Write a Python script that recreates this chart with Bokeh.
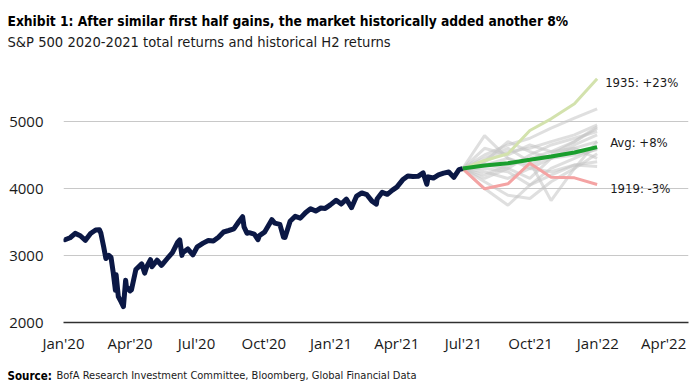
import pandas as pd
from bokeh.plotting import figure
from bokeh.layouts import column, row
from bokeh.models import Range1d, FixedTicker, DatetimeTickFormatter, Label, ColumnDataSource
from bokeh.core.properties import value
from bokeh.embed import file_html
from bokeh.resources import INLINE

# ---------------- data ----------------
spx_dates = [
    "2020-01-02", "2020-01-03", "2020-01-10", "2020-01-17", "2020-01-24", "2020-01-31",
    "2020-02-07", "2020-02-14", "2020-02-19", "2020-02-21", "2020-02-25", "2020-02-28",
    "2020-03-03", "2020-03-06", "2020-03-09", "2020-03-12", "2020-03-13", "2020-03-16",
    "2020-03-20", "2020-03-23", "2020-03-26", "2020-03-27", "2020-04-01", "2020-04-03",
    "2020-04-09", "2020-04-17", "2020-04-21", "2020-04-24", "2020-04-29", "2020-05-01",
    "2020-05-08", "2020-05-14", "2020-05-15", "2020-05-22", "2020-05-29", "2020-06-05",
    "2020-06-08", "2020-06-11", "2020-06-12", "2020-06-19", "2020-06-26", "2020-07-02",
    "2020-07-10", "2020-07-17", "2020-07-24", "2020-07-31", "2020-08-07", "2020-08-14",
    "2020-08-21", "2020-08-28", "2020-09-02", "2020-09-04", "2020-09-08", "2020-09-11",
    "2020-09-18", "2020-09-23", "2020-09-25", "2020-10-02", "2020-10-09", "2020-10-12",
    "2020-10-16", "2020-10-23", "2020-10-28", "2020-10-30", "2020-11-06", "2020-11-13",
    "2020-11-20", "2020-11-27", "2020-12-04", "2020-12-11", "2020-12-18", "2020-12-24",
    "2020-12-31", "2021-01-08", "2021-01-15", "2021-01-22", "2021-01-27", "2021-01-29",
    "2021-02-05", "2021-02-12", "2021-02-19", "2021-02-26", "2021-03-04", "2021-03-05",
    "2021-03-12", "2021-03-19", "2021-03-26", "2021-04-01", "2021-04-09", "2021-04-16",
    "2021-04-23", "2021-04-30", "2021-05-07", "2021-05-12", "2021-05-14", "2021-05-21",
    "2021-05-28", "2021-06-04", "2021-06-11", "2021-06-18", "2021-06-25", "2021-06-30",
]
spx_values = [
    3258, 3235, 3265, 3330, 3295, 3226,
    3328, 3380, 3386, 3338, 3128, 2954,
    3003, 2972, 2747, 2481, 2711, 2386,
    2305, 2237, 2630, 2541, 2471, 2489,
    2790, 2875, 2737, 2837, 2939, 2831,
    2930, 2852, 2864, 2955, 3044, 3194,
    3232, 3002, 3041, 3098, 3009, 3130,
    3185, 3225, 3216, 3271, 3351, 3373,
    3397, 3508, 3580, 3427, 3332, 3341,
    3319, 3237, 3298, 3348, 3477, 3535,
    3484, 3465, 3271, 3270, 3510, 3585,
    3558, 3638, 3699, 3663, 3709, 3703,
    3756, 3825, 3768, 3841, 3750, 3714,
    3887, 3934, 3907, 3811, 3768, 3842,
    3943, 3913, 3975, 4020, 4129, 4185,
    4180, 4181, 4233, 4063, 4174, 4156,
    4204, 4230, 4247, 4166, 4281, 4298,
]

proj_dates = ["2021-06-30", "2021-07-30", "2021-08-31", "2021-09-30", "2021-10-29", "2021-11-30", "2021-12-31"]
avg_path = [4298, 4343, 4378, 4428, 4478, 4537, 4617]
path_1935 = [4298, 4418, 4518, 4866, 5040, 5264, 5637]
path_1919 = [4298, 3995, 4070, 4378, 4169, 4159, 4060]
grey_paths = [
    [4298, 4790, 4450, 4350, 4500, 4700, 4900],
    [4298, 4000, 3750, 4050, 4300, 4450, 4600],
    [4298, 4450, 4600, 4400, 3820, 4300, 4700],
    [4298, 4500, 4650, 4750, 4900, 5050, 5190],
    [4298, 4400, 4550, 4600, 4700, 4800, 4950],
    [4298, 4350, 4300, 4500, 4650, 4750, 4850],
    [4298, 4200, 4350, 4450, 4550, 4600, 4450],
    [4298, 4250, 4150, 4300, 4250, 4350, 4400],
    [4298, 4100, 3900, 3850, 4100, 4300, 4520],
    [4298, 4600, 4500, 4650, 4550, 4700, 4920],
    [4298, 4350, 4450, 4300, 4450, 4500, 4580],
    [4298, 4150, 4300, 4150, 4450, 4650, 4800],
    [4298, 4400, 4700, 4550, 4450, 4600, 4700],
    [4298, 4300, 4250, 4050, 4200, 4350, 4330],
]
y_ticks = [2000, 3000, 4000, 5000]
x_tick_dates = ["2020-01-01", "2020-04-01", "2020-07-01", "2020-10-01", "2021-01-01",
                "2021-04-01", "2021-07-01", "2021-10-01", "2022-01-01", "2022-04-01"]
title_text = "Exhibit 1: After similar first half gains, the market historically added another 8%"
subtitle_text = "S&P 500 2020-2021 total returns and historical H2 returns"
source_label = "Source:"
source_text = "BofA Research Investment Committee, Bloomberg, Global Financial Data"
end_labels = ["1935: +23%", "Avg: +8%", "1919: -3%"]

# ---------------- helpers ----------------
def ms(d):
    return pd.Timestamp(d).value / 1e6

W = 692
FONT = "DejaVu Sans Condensed"
AXFONT = "Open Sans"


def text_strip(h):
    f = figure(width=W, height=h, output_backend="svg", toolbar_location=None,
               x_range=Range1d(0, W), y_range=Range1d(0, h),
               x_axis_location=None, y_axis_location=None,
               min_border=0, min_border_left=0, min_border_right=0,
               min_border_top=0, min_border_bottom=0)
    f.outline_line_color = None
    f.xgrid.visible = False
    f.ygrid.visible = False
    f.border_fill_color = "white"
    return f

# ---------------- header ----------------
head = text_strip(50)
head.text(x=[7], y=[30], text=[title_text], text_font=value(FONT), text_font_style="bold",
          text_font_size="13.7px", text_color="#000000", text_baseline="middle")
head.text(x=[7], y=[9], text=[subtitle_text], text_font=value(FONT),
          text_font_size="14.6px", text_color="#1a1a1a", text_baseline="middle")

# ---------------- chart ----------------
p = figure(width=W, height=312, output_backend="svg", toolbar_location=None,
           x_axis_type="datetime",
           x_range=Range1d(ms("2020-01-01"), ms("2022-05-05")),
           y_range=Range1d(2000, 6000),
           min_border_left=63, min_border_right=4, min_border_top=4, min_border_bottom=40)
p.title.text = ""
p.outline_line_color = None
p.background_fill_color = "white"
p.border_fill_color = "white"

p.xgrid.grid_line_color = None
p.ygrid.grid_line_color = "#c8c8c8"
p.ygrid.grid_line_width = 1
p.ygrid.ticker = FixedTicker(ticks=y_ticks)

p.yaxis.ticker = FixedTicker(ticks=y_ticks)
p.yaxis.axis_line_color = None
p.yaxis.major_tick_line_color = None
p.yaxis.minor_tick_line_color = None
p.yaxis.major_label_text_font = AXFONT
p.yaxis.major_label_text_font_size = "15px"
p.yaxis.major_label_text_color = "#1a1a1a"
p.yaxis.major_label_standoff = 14

p.xaxis.ticker = FixedTicker(ticks=[ms(d) for d in x_tick_dates])
fmt = "%b'%y"
p.xaxis.formatter = DatetimeTickFormatter(milliseconds=fmt, seconds=fmt, minsec=fmt, minutes=fmt,
                                          hourmin=fmt, hours=fmt, days=fmt, months=fmt, years=fmt)
p.xaxis.axis_line_color = "#303030"
p.xaxis.axis_line_width = 1.5
p.xaxis.major_tick_line_color = None
p.xaxis.minor_tick_line_color = None
p.xaxis.major_label_text_font = AXFONT
p.xaxis.major_label_text_font_size = "15px"
p.xaxis.major_label_text_color = "#1a1a1a"
p.xaxis.major_label_standoff = 4

px = [ms(d) for d in proj_dates]
p.multi_line(xs=[px] * len(grey_paths), ys=grey_paths, line_color="#c4c4c4",
             line_alpha=0.55, line_width=3)
p.line(px, path_1919, line_color="#f4a3a3", line_width=3)
p.line(px, path_1935, line_color="#d3e2ad", line_width=3)
p.line(px, avg_path, line_color="#1a9e2e", line_width=4)

src = ColumnDataSource(dict(x=[ms(d) for d in spx_dates], y=spx_values))
p.line("x", "y", source=src, line_color="#0b1845", line_width=5, line_join="round")

for txt, yv, xoff, yoff in zip(end_labels, [path_1935[-1], avg_path[-1], path_1919[-1]],
                               [8, 13, 13], [-4, 5, -4]):
    p.add_layout(Label(x=px[-1], y=yv, text=txt, x_offset=xoff, y_offset=yoff,
                       text_baseline="middle", text_font=FONT,
                       text_font_size="13px", text_color="#1a1a1a"))

# ---------------- footer ----------------
foot = text_strip(20)
foot.text(x=[7], y=[7], text=[source_label], text_font=value(FONT), text_font_style="bold",
          text_font_size="11.5px", text_color="#000000", text_baseline="middle")
foot.text(x=[56], y=[7], text=[source_text], text_font=value(FONT),
          text_font_size="11px", text_color="#1a1a1a", text_baseline="middle")

layout = column(row(head), p, row(foot), spacing=0)
open("out.html", "w").write(file_html(layout, INLINE))
